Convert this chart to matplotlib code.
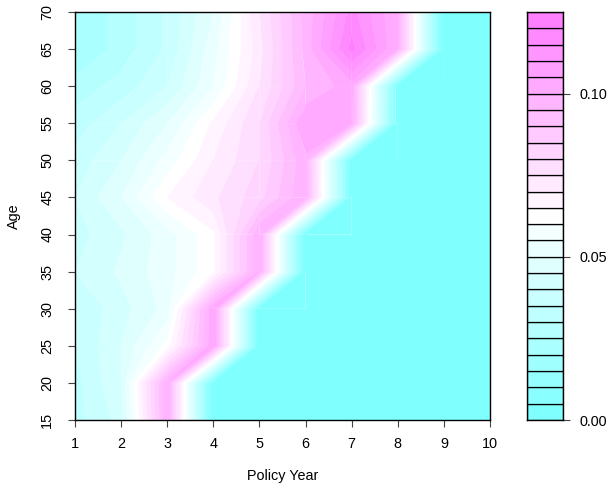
import matplotlib
matplotlib.use("Agg")
import matplotlib.pyplot as plt
import numpy as np
from matplotlib.colors import hsv_to_rgb
from matplotlib.collections import PolyCollection

plt.rcParams['font.family'] = ['Liberation Sans', 'DejaVu Sans']
plt.rcParams['font.size'] = 10.4

# policy years (x) and ages (y)
policy_year = [1, 2, 3, 4, 5, 6, 7, 8, 9, 10]
age = [15, 20, 25, 30, 35, 40, 45, 50, 55, 60, 65, 70]

# rate by age, one list per age row
age_15 = [0.033, 0.042, 0.100, 0, 0, 0, 0, 0, 0, 0]
age_20 = [0.033, 0.045, 0.100, 0, 0, 0, 0, 0, 0, 0]
age_25 = [0.035, 0.045, 0.062, 0.105, 0, 0, 0, 0, 0, 0]
age_30 = [0.035, 0.043, 0.052, 0.105, 0, 0, 0, 0, 0, 0]
age_35 = [0.040, 0.046, 0.053, 0.064, 0.100, 0, 0, 0, 0, 0]
age_40 = [0.038, 0.044, 0.053, 0.064, 0.100, 0, 0, 0, 0, 0]
age_45 = [0.040, 0.050, 0.065, 0.074, 0.083, 0.100, 0, 0, 0, 0]
age_50 = [0.037, 0.045, 0.057, 0.070, 0.080, 0.099, 0, 0, 0, 0]
age_55 = [0.032, 0.040, 0.050, 0.066, 0.080, 0.105, 0.102, 0, 0, 0]
age_60 = [0.027, 0.032, 0.040, 0.055, 0.075, 0.095, 0.103, 0, 0, 0]
age_65 = [0.020, 0.027, 0.036, 0.053, 0.073, 0.097, 0.122, 0.100, 0, 0]
age_70 = [0.020, 0.027, 0.036, 0.050, 0.075, 0.097, 0.117, 0.100, 0, 0]

levels = np.arange(0, 0.125 + 1e-9, 0.005)
key_ticks = [0.00, 0.05, 0.10]

z = np.array([age_15, age_20, age_25, age_30, age_35, age_40,
              age_45, age_50, age_55, age_60, age_65, age_70])


# R's cm.colors(n)
def cm_colors(n):
    k = n // 2
    even = n % 2 == 0
    l1 = k + 1 - even
    l2 = n - k + even
    lo = [hsv_to_rgb((6/12, s, 1)) for s in np.linspace(0.5, 0.5/k if even else 0, l1)]
    hi = [hsv_to_rgb((10/12, s, 1)) for s in np.linspace(0, 0.5, l2)[1:]]
    return lo + hi


# polygon of one cell lying within [lo, hi], walking round the cell edges
# (same way R's filled.contour builds its polygons)
def cell_band(corners, lo, hi):
    pts = []
    for k in range(4):
        x0, y0, a = corners[k]
        x1, y1, b = corners[(k + 1) % 4]
        if lo <= a <= hi:
            pts.append((x0, y0))
        cross = []
        for lev in (lo, hi):
            if (a - lev) * (b - lev) < 0:
                t = (lev - a) / (b - a)
                cross.append((t, x0 + t * (x1 - x0), y0 + t * (y1 - y0)))
        cross.sort()
        pts += [(cx, cy) for _, cx, cy in cross]
    return pts if len(pts) >= 3 else None


cols = cm_colors(len(levels) - 1)

fig = plt.figure(figsize=(6.10, 4.86), dpi=100)
W, H = 610, 486
ax = fig.add_axes([75/W, 1 - 420/H, 415/W, 408/H])
cax = fig.add_axes([527/W, 1 - 420/H, 36/W, 408/H])

for b in range(len(levels) - 1):
    polys = []
    for j in range(len(age) - 1):
        for i in range(len(policy_year) - 1):
            x0, x1 = policy_year[i], policy_year[i + 1]
            y0, y1 = age[j], age[j + 1]
            corners = [(x0, y0, z[j, i]), (x1, y0, z[j, i + 1]),
                       (x1, y1, z[j + 1, i + 1]), (x0, y1, z[j + 1, i])]
            p = cell_band(corners, levels[b], levels[b + 1])
            if p:
                polys.append(p)
    ax.add_collection(PolyCollection(polys, facecolors=[cols[b]],
                                     edgecolors=[cols[b]], linewidths=0.2))

ax.set_xlim(1, 10)
ax.set_ylim(15, 70)
ax.set_xticks(policy_year)
ax.set_yticks(age)
ax.set_yticklabels([str(a) for a in age], rotation=90, va='center')
ax.tick_params(direction='out', length=5, width=0.8, color='#444444')
ax.tick_params(axis='x', pad=7)
ax.tick_params(axis='y', pad=10)
for s in ax.spines.values():
    s.set_linewidth(1.0)
    s.set_zorder(5)

fig.text(282.5/W, 1 - 476/H, 'Policy Year', ha='center', va='center')
fig.text(14/W, 1 - 216/H, 'Age', ha='center', va='center', rotation=90)

# key
cax.bar(0.5, np.diff(levels), bottom=levels[:-1], width=1, color=cols,
        edgecolor='black', linewidth=0.9)
cax.set_xlim(0, 1)
cax.set_ylim(levels[0], levels[-1])
cax.set_xticks([])
cax.yaxis.tick_right()
cax.set_yticks(key_ticks)
cax.set_yticklabels(['%.2f' % t for t in key_ticks])
cax.tick_params(direction='out', length=5, width=0.8, color='#444444', pad=7)
for s in cax.spines.values():
    s.set_linewidth(1.0)

fig.savefig('out.png', dpi=100)
